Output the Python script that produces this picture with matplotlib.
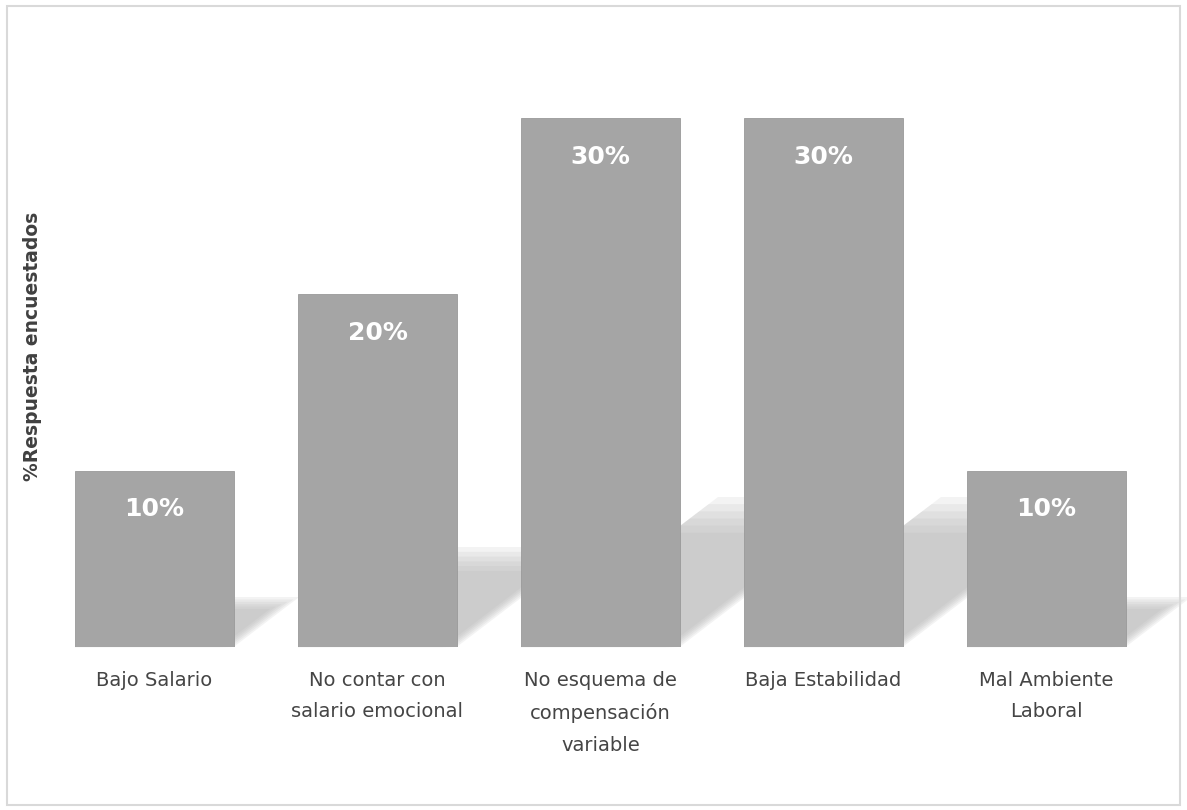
import matplotlib
matplotlib.use("Agg")
import matplotlib.pyplot as plt
from matplotlib.patches import Polygon, Rectangle

categories = ["Bajo Salario",
              "No contar con\nsalario emocional",
              "No esquema de\ncompensación\nvariable",
              "Baja Estabilidad",
              "Mal Ambiente\nLaboral"]
values = [10, 20, 30, 30, 10]
value_labels = ["10%", "20%", "30%", "30%", "10%"]

fig = plt.figure(figsize=(11.87, 8.10), dpi=100)
ax = fig.add_axes([0.0362, 0.2012, 0.9393, 0.6531])

x = list(range(len(categories)))
width = 0.71
bars = ax.bar(x, values, width=width, color="#a5a5a5", edgecolor="#9a9a9a",
              linewidth=0.6, zorder=3)

# soft perspective shadows behind the bars
for xi, v in zip(x, values):
    dx = 0.028 * v
    dy = 0.27 * v
    x0, x1 = xi - width / 2, xi + width / 2
    for k in range(6):
        s = 1.05 - 0.05 * k
        shift = 0.012 * k
        pts = [(x0, 0), (x1 - shift, 0),
               (x1 - shift + dx * s, dy * s), (x0 + dx * s, dy * s)]
        ax.add_patch(Polygon(pts, closed=True, facecolor="#b0b0b0", edgecolor="none",
                             alpha=0.15, zorder=1, clip_on=False))

for b, lab in zip(bars, value_labels):
    ax.text(b.get_x() + b.get_width() / 2, b.get_height() - 2.2, lab,
            ha="center", va="center", color="white", fontsize=18,
            fontweight="bold", zorder=4)

ax.set_xlim(-0.5, 4.5)
ax.set_ylim(0, 30)
ax.set_xticks(x)
ax.set_xticklabels(categories, fontsize=14, color="#454545", linespacing=1.85)
ax.tick_params(axis="x", length=0, pad=17)
ax.set_yticks([])
for s in ax.spines.values():
    s.set_visible(False)

fig.text(0.027, 0.572, "%Respuesta encuestados", rotation=90, ha="center",
         va="center", fontsize=13.5, fontweight="bold", color="#404040")

# chart border
fig.patches.append(Rectangle((0.006, 0.006), 0.988, 0.987, transform=fig.transFigure,
                             fill=False, edgecolor="#d9d9d9", linewidth=1.5))

fig.savefig("out.png", dpi=100)
